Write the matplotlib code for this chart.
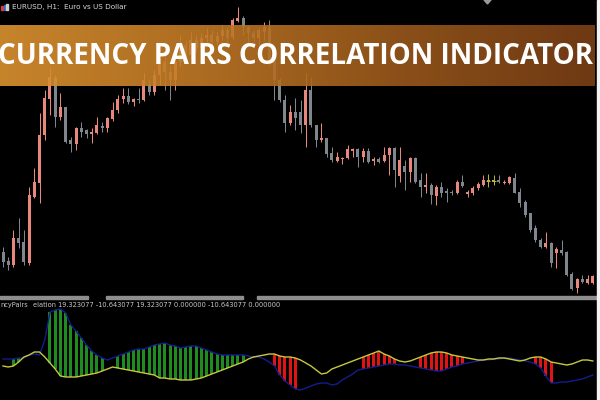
import matplotlib
matplotlib.use("Agg")
import matplotlib.pyplot as plt
import numpy as np
from matplotlib.colors import LinearSegmentedColormap
from matplotlib.patches import Rectangle, Polygon

# EURUSD H1 candles, price in points above chart floor
candle_open = [
    48, 39, 35, 62, 58, 37, 103, 117, 165, 201,
    222, 183, 193, 160, 156, 172, 170, 166, 167, 174,
    172, 181, 190, 201, 204, 198, 201, 200, 215, 208,
    225, 238, 228, 220, 238, 255, 245, 260, 252, 262,
    265, 258, 264, 270, 263, 279, 282, 273, 267, 262,
    268, 273, 240, 220, 200, 177, 188, 188, 175, 210,
    175, 160, 162, 147, 139, 141, 142, 149, 151, 143,
    149, 139, 141, 139, 145, 152, 124, 134, 128, 142,
    120, 113, 115, 104, 113, 109, 108, 107, 118, 106,
    107, 112, 115, 119, 119, 120, 117, 117, 122, 108,
    98, 87, 72, 60, 53, 57, 47, 50, 48, 26,
    12, 21, 17, 17,
]
candle_close = [
    38, 35, 62, 57, 38, 105, 118, 165, 202, 223,
    183, 193, 158, 156, 172, 168, 166, 168, 175, 172,
    182, 190, 201, 204, 198, 201, 200, 220, 208, 225,
    238, 228, 220, 238, 255, 245, 260, 252, 262, 265,
    258, 264, 270, 262, 280, 282, 273, 267, 262, 270,
    273, 240, 220, 200, 177, 188, 182, 175, 210, 175,
    160, 162, 146, 140, 143, 142, 151, 151, 143, 149,
    138, 141, 138, 145, 152, 130, 140, 128, 142, 118,
    113, 115, 105, 113, 107, 107, 107, 118, 114, 108,
    112, 116, 120, 119, 119, 118, 118, 123, 107, 97,
    85, 70, 60, 53, 57, 37, 51, 47, 25, 11,
    21, 18, 21, 24,
]
candle_high = [
    53, 43, 70, 82, 70, 113, 132, 187, 210, 232,
    225, 207, 193, 163, 173, 178, 171, 172, 183, 178,
    183, 198, 205, 212, 212, 202, 212, 227, 220, 230,
    242, 245, 235, 242, 265, 260, 268, 265, 267, 272,
    270, 268, 275, 273, 282, 293, 284, 275, 270, 272,
    278, 280, 245, 222, 205, 195, 202, 200, 227, 223,
    175, 177, 162, 153, 148, 143, 155, 152, 152, 152,
    152, 143, 143, 153, 153, 153, 153, 140, 143, 143,
    127, 127, 117, 115, 118, 112, 110, 120, 125, 110,
    114, 118, 125, 126, 125, 125, 120, 124, 127, 112,
    100, 87, 75, 62, 68, 58, 53, 60, 49, 28,
    22, 25, 25, 25,
]
candle_low = [
    33, 30, 33, 52, 35, 35, 102, 97, 160, 185,
    173, 180, 157, 148, 150, 163, 162, 157, 166, 168,
    168, 179, 187, 197, 196, 194, 197, 199, 205, 205,
    215, 210, 200, 210, 234, 240, 242, 248, 250, 258,
    252, 255, 260, 258, 260, 278, 265, 255, 252, 255,
    260, 235, 200, 198, 168, 175, 170, 167, 153, 173,
    153, 158, 143, 138, 138, 136, 141, 143, 133, 138,
    137, 135, 137, 138, 125, 113, 118, 110, 118, 117,
    103, 107, 96, 95, 103, 98, 105, 106, 113, 103,
    105, 110, 114, 113, 115, 117, 116, 116, 107, 93,
    83, 68, 58, 52, 52, 33, 32, 45, 24, 10,
    7, 17, 16, 16,
]

# indicator lines (blue = base pair, yellow = correlated pair)
blue_line = [
    41, 41, 41, 42, 42, 45, 46, 45, 60, 88,
    90, 91, 87, 75, 69, 62, 55, 49, 45, 42,
    40, 42, 44, 46, 48, 50, 51, 51, 53, 55,
    56, 57, 55, 54, 52, 53, 54, 54, 52, 50,
    48, 46, 45, 45, 45, 45, 45, 44, 43, 43,
    41, 38, 34, 25, 19, 15, 11, 10, 12, 14,
    16, 17, 17, 15, 16, 20, 23, 26, 30, 31,
    32, 33, 34, 35, 36, 36, 35, 35, 34, 33,
    32, 31, 30, 29, 29, 31, 33, 34, 36, 37,
    38, 39, 40, 40, 41, 41, 42, 42, 41, 40,
    39, 38, 36, 32, 24, 17, 17, 18, 18, 19,
    20, 21, 23, 25,
]
yellow_line = [
    34, 33, 34, 38, 43, 45, 48, 48, 43, 37,
    31, 24, 23, 23, 23, 24, 25, 26, 27, 29,
    31, 33, 32, 31, 30, 29, 28, 27, 26, 25,
    22, 22, 21, 21, 20, 20, 20, 21, 22, 24,
    26, 28, 30, 32, 34, 36, 38, 41, 43, 44,
    45, 46, 46, 44, 43, 43, 42, 40, 37, 34,
    30, 26, 27, 31, 33, 35, 37, 39, 41, 43,
    45, 47, 49, 46, 44, 41, 39, 38, 39, 41,
    43, 45, 47, 48, 48, 47, 45, 44, 43, 42,
    41, 40, 40, 41, 41, 42, 42, 41, 40, 39,
    40, 42, 43, 43, 41, 38, 37, 36, 35, 36,
    38, 40, 40, 39,
]
# 1 = green histogram, -1 = red histogram, 0 = none
hist_sign = [
    0, 0, 1, 1, 0, 0, 0, 0, 0, 1,
    1, 1, 1, 1, 1, 1, 1, 1, 1, 1,
    0, 0, 1, 1, 1, 1, 1, 1, 1, 1,
    1, 1, 1, 1, 1, 1, 1, 1, 1, 1,
    1, 1, 1, 1, 1, 1, 1, 0, 0, 0,
    0, 0, -1, -1, -1, -1, -1, 0, 0, 0,
    0, 0, 0, 0, 0, 0, 0, 0, 0, -1,
    -1, -1, -1, -1, -1, -1, 0, 0, 0, 0,
    -1, -1, -1, -1, -1, -1, -1, -1, -1, 0,
    0, 0, 0, 0, 0, 0, 0, 0, 0, 0,
    0, 0, -1, -1, -1, -1, 0, 0, 0, 0,
    0, 0, 0, 0,
]

chart_title = "EURUSD, H1:  Euro vs US Dollar"
indicator_name = ["ncyPairs", "elation"]
indicator_values = ["19.323077", "-10.643077", "19.323077", "0.000000", "-10.643077", "0.000000"]
banner_text = "CURRENCY PAIRS CORRELATION INDICATOR"

BULL = "#e8887c"
BEAR = "#80868e"
DOJI = "#b4b43c"
W, H = 600, 400
PITCH = 5.22  # pixels per bar
X0 = 3.0


def fx(px):
    return px / W


def fy(py):
    return 1 - py / H


fig = plt.figure(figsize=(6, 4), dpi=100, facecolor="black")

x_lim = (-X0 / PITCH, (597 - X0) / PITCH)
lw = 72 / 100

# main candle chart
ax = fig.add_axes([0, fy(296), fx(597), 296 / H])
ax.set_facecolor("black")
o = np.array(candle_open)
c = np.array(candle_close)
hi = np.array(candle_high)
lo = np.array(candle_low)
idx = np.arange(len(o))
cols = np.where(c > o, BULL, np.where(c < o, BEAR, DOJI))
ax.vlines(idx, lo, hi, colors=cols, linewidth=lw)
body = np.maximum(np.abs(c - o), 1.2)
ax.bar(idx, body, bottom=np.minimum(o, c) - (body - np.abs(c - o)) / 2,
       width=3 / PITCH, color=cols, linewidth=0)
dj = c == o
ax.hlines(o[dj], idx[dj] - 2 / PITCH, idx[dj] + 2 / PITCH, colors=DOJI, linewidth=lw)
ax.set_xlim(*x_lim)
ax.set_ylim(4, 300)
ax.axis("off")

# indicator window
ax2 = fig.add_axes([0, 0, fx(597), 101 / H])
ax2.set_facecolor("black")
b = np.array(blue_line)
y = np.array(yellow_line)
s = np.array(hist_sign)
m = s != 0
ax2.bar(idx[m], np.abs(b - y)[m], bottom=np.minimum(b, y)[m], width=3 / PITCH,
        color=np.where(s[m] > 0, "#1f8c1f", "#e01414"), linewidth=0)
ax2.plot(idx, b, color="#121e8e", linewidth=1.0)
ax2.plot(idx, y, color="#c8c83c", linewidth=1.0)
ax2.set_xlim(*x_lim)
ax2.set_ylim(0, 101)
ax2.axis("off")

# separator between windows, with gaps
for x1, x2 in [(0, 88), (106, 243), (257, 597)]:
    fig.patches.append(Rectangle((fx(x1), fy(299)), fx(x2 - x1), 3 / H,
                                 transform=fig.transFigure, color="#8e8e8e"))

# white right edge
fig.patches.append(Rectangle((fx(597), 0), fx(3), 1, transform=fig.transFigure,
                             color="#f2f2f2"))

# little marker at the top
fig.patches.append(Polygon([(fx(484), fy(0)), (fx(491), fy(0)), (fx(487.5), fy(4))],
                           closed=True, transform=fig.transFigure, color="#9a9a9a"))

# chart icon + title
for k, colr in enumerate(["#d04040", "#4060c0", "#d0d0d0"]):
    fig.patches.append(Rectangle((fx(1 + k * 2.5), fy(10)), fx(1.8), (4 + k) / H,
                                 transform=fig.transFigure, color=colr))
fig.text(fx(12), fy(7), chart_title, color="#d8d8d8", fontsize=5.2,
         va="center", ha="left", family="DejaVu Sans")

# indicator label
fig.text(fx(0), fy(305), indicator_name[0], color="#c8c8c8", fontsize=4.8,
         va="center", ha="left")
fig.text(fx(33), fy(305), indicator_name[1] + " " + " ".join(indicator_values),
         color="#c8c8c8", fontsize=4.8, va="center", ha="left")

# banner
axb = fig.add_axes([0, fy(86), fx(595), 61 / H])
cmap = LinearSegmentedColormap.from_list(
    "banner", ["#de9430", "#c27a26", "#9c5a1c", "#7c4016"])
grad = np.linspace(0, 1, 256).reshape(1, -1)
axb.imshow(grad, cmap=cmap, aspect="auto", extent=[0, 1, 0, 1], alpha=0.9)
axb.axis("off")

t = fig.text(fx(296), fy(64), banner_text, color="white", fontsize=20,
             fontweight="bold", ha="center", va="baseline", family="Open Sans")
fig.canvas.draw()
wpx = t.get_window_extent(fig.canvas.get_renderer()).width
t.set_fontsize(20 * 594 / wpx)

fig.savefig("out.png", dpi=100, facecolor="black")
